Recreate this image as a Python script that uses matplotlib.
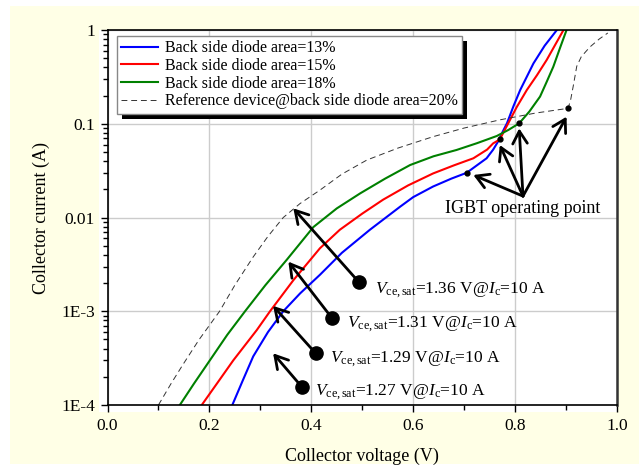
import matplotlib
matplotlib.use('Agg')
import matplotlib.pyplot as plt
from matplotlib.patches import Rectangle

plt.rcParams['font.family'] = 'Liberation Serif'
plt.rcParams['mathtext.fontset'] = 'custom'
plt.rcParams['mathtext.rm'] = 'Liberation Serif'
plt.rcParams['mathtext.it'] = 'Liberation Serif:italic'

# 背面二极管面积 13%
v13 = [0.245, 0.265, 0.286, 0.315, 0.345, 0.378, 0.417, 0.460, 0.515, 0.574, 0.600, 0.639, 0.675,
       0.705, 0.725, 0.744, 0.757, 0.769, 0.776, 0.784, 0.797, 0.810, 0.836, 0.858, 0.882]
i13 = [1e-4, 1.8e-4, 3.3e-4, 6.0e-4, 1.0e-3, 1.55e-3, 2.45e-3, 4.2e-3, 7.4e-3, 0.013, 0.0165, 0.0214, 0.026,
       0.030, 0.036, 0.0428, 0.053, 0.068, 0.083, 0.101, 0.155, 0.229, 0.44, 0.68, 1.0]
# 15%
v15 = [0.185, 0.215, 0.247, 0.293, 0.319, 0.365, 0.417, 0.456, 0.500, 0.541, 0.590, 0.639, 0.680,
       0.718, 0.745, 0.757, 0.770, 0.783, 0.803, 0.823, 0.843, 0.862, 0.879, 0.895]
i15 = [1e-4, 1.7e-4, 3.0e-4, 6.3e-4, 1.0e-3, 2.15e-3, 4.7e-3, 7.4e-3, 0.011, 0.0155, 0.022, 0.0295, 0.036,
       0.0428, 0.053, 0.0618, 0.068, 0.093, 0.15, 0.229, 0.33, 0.479, 0.70, 1.0]
# 18%
v18 = [0.142, 0.170, 0.201, 0.235, 0.270, 0.310, 0.352, 0.404, 0.417, 0.450, 0.496, 0.545, 0.594,
       0.640, 0.685, 0.725, 0.764, 0.787, 0.808, 0.828, 0.849, 0.862, 0.875, 0.888, 0.901]
i18 = [1e-4, 1.7e-4, 3.0e-4, 5.6e-4, 1.0e-3, 1.9e-3, 3.55e-3, 7.9e-3, 9.0e-3, 0.0125, 0.0181, 0.026, 0.0363,
       0.045, 0.0525, 0.062, 0.074, 0.086, 0.101, 0.135, 0.195, 0.28, 0.406, 0.64, 1.0]
# 参考器件 20%
vref = [0.100, 0.125, 0.149, 0.180, 0.220, 0.250, 0.286, 0.315, 0.345, 0.378, 0.417, 0.460, 0.509,
        0.570, 0.639, 0.700, 0.770, 0.840, 0.904, 0.909, 0.914, 0.921, 0.930, 0.947, 0.965, 0.982]
iref = [1e-4, 1.7e-4, 2.75e-4, 5.0e-4, 1.0e-3, 1.9e-3, 3.8e-3, 6.3e-3, 0.01, 0.0141, 0.0196, 0.029, 0.041,
        0.055, 0.0728, 0.09, 0.11, 0.13, 0.146, 0.18, 0.25, 0.41, 0.52, 0.66, 0.80, 0.93]

labels = ['Back side diode area=13%', 'Back side diode area=15%',
          'Back side diode area=18%', 'Reference device@back side diode area=20%']

# IGBT 工作点
op_v = [0.705, 0.770, 0.808, 0.904]
op_i = [0.030, 0.068, 0.101, 0.146]
op_tip_v = [0.718, 0.770, 0.808, 0.901]
op_tip_i = [0.0284, 0.0593, 0.0893, 0.119]
op_tail = (0.8155, 0.0169)

# Vce,sat 注释
vce = ['1.36', '1.31', '1.29', '1.27']
dot_v = [0.4936, 0.441, 0.4086, 0.381]
dot_i = [2.04e-3, 8.4e-4, 3.56e-4, 1.57e-4]
tip_v = [0.3647, 0.355, 0.325, 0.325]
tip_i = [0.01253, 3.38e-3, 1.14e-3, 3.56e-4]
txt_v = [0.525, 0.4695, 0.4367, 0.407]
txt_i = [1.69e-3, 7.3e-4, 3.1e-4, 1.39e-4]

fig = plt.figure(figsize=(6.39, 4.68), dpi=100, facecolor='white')
fig.patches.append(Rectangle((10/639, 4/468), 629/639, 458/468, transform=fig.transFigure,
                             facecolor='#FFFFE6', edgecolor='none', zorder=-10))
fig.patches.append(Rectangle((99/639, 56/468), 518/639, 382/468, transform=fig.transFigure,
                             facecolor='white', edgecolor='none', zorder=-9))
ax = fig.add_axes([107.5/639, 63/468, 509.5/639, 375/468])
ax.set_facecolor('white')

ax.plot(v13, i13, color='#0000FF', lw=1.5, label=labels[0])
ax.plot(v15, i15, color='#FF0000', lw=1.5, label=labels[1])
ax.plot(v18, i18, color='#008000', lw=1.5, label=labels[2])
ax.plot(vref, iref, color='#333333', lw=0.7, ls=(0, (6, 4)), label=labels[3])

ax.plot(op_v, op_i, 'o', color='k', ms=3.5, zorder=5)
for tv, ti in zip(op_tip_v, op_tip_i):
    ax.annotate('', xy=(tv, ti), xytext=op_tail,
                arrowprops=dict(arrowstyle='->,head_length=0.6,head_width=0.35', lw=2, color='k',
                                mutation_scale=15, shrinkA=0, shrinkB=0))
ax.text(op_tail[0], 0.0126, 'IGBT operating point', ha='center', va='center', fontsize=13)

for k in range(4):
    ax.annotate('', xy=(tip_v[k], tip_i[k]), xytext=(dot_v[k], dot_i[k]),
                arrowprops=dict(arrowstyle='->,head_length=0.6,head_width=0.35', lw=2, color='k',
                                mutation_scale=15, shrinkA=0, shrinkB=0))
    ax.plot(dot_v[k], dot_i[k], 'o', color='k', ms=9.5, zorder=5)
    ax.text(txt_v[k], txt_i[k], r'$V_{\mathrm{ce,sat}}$=' + vce[k] + r' V@$I_{\mathrm{c}}$=10 A',
            ha='left', va='center', fontsize=12.5)

ax.set_yscale('log')
ax.set_xlim(0, 1)
ax.set_ylim(1e-4, 1)
ax.set_xticks([0, 0.2, 0.4, 0.6, 0.8, 1.0])
ax.set_xticklabels(['0.0', '0.2', '0.4', '0.6', '0.8', '1.0'])
ax.set_xticks([0.1, 0.3, 0.5, 0.7, 0.9], minor=True)
ax.set_yticks([1e-4, 1e-3, 1e-2, 1e-1, 1])
ax.set_yticklabels(['1E-4', '1E-3', '0.01', '0.1', '1'])
ax.tick_params(axis='both', which='major', direction='out', length=5, width=1, labelsize=12.5, pad=4)
ax.tick_params(axis='both', which='minor', direction='out', length=3.5, width=1)
ax.grid(True, which='major', color='#CCCCCC', lw=1)
ax.set_axisbelow(True)
for s in ['left', 'bottom', 'top']:
    ax.spines[s].set_linewidth(1.2)
ax.spines['right'].set_linewidth(1.8)
ax.spines['right'].set_color('#333333')

ax.set_xlabel('Collector voltage (V)', fontsize=13, labelpad=10)
ax.set_ylabel('Collector current (A)', fontsize=13, labelpad=8)

leg = ax.legend(loc='upper left', bbox_to_anchor=(0.018, 0.985), borderaxespad=0, fontsize=11.5,
                frameon=True, fancybox=False, edgecolor='#888888',
                framealpha=1, handlelength=2.3, labelspacing=0.1, borderpad=0.3, handletextpad=0.4)
leg.get_frame().set_linewidth(1)
leg.set_zorder(10)

# 图例阴影（黑色，向右下偏移）
fig.canvas.draw()
bb = leg.get_frame().get_window_extent()
shadow = Rectangle((bb.x0 + 5, bb.y0 - 5), bb.width, bb.height, transform=None,
                   facecolor='black', edgecolor='none', zorder=9.5)
ax.add_artist(shadow)

fig.savefig('out.png', dpi=100, facecolor=fig.get_facecolor())
